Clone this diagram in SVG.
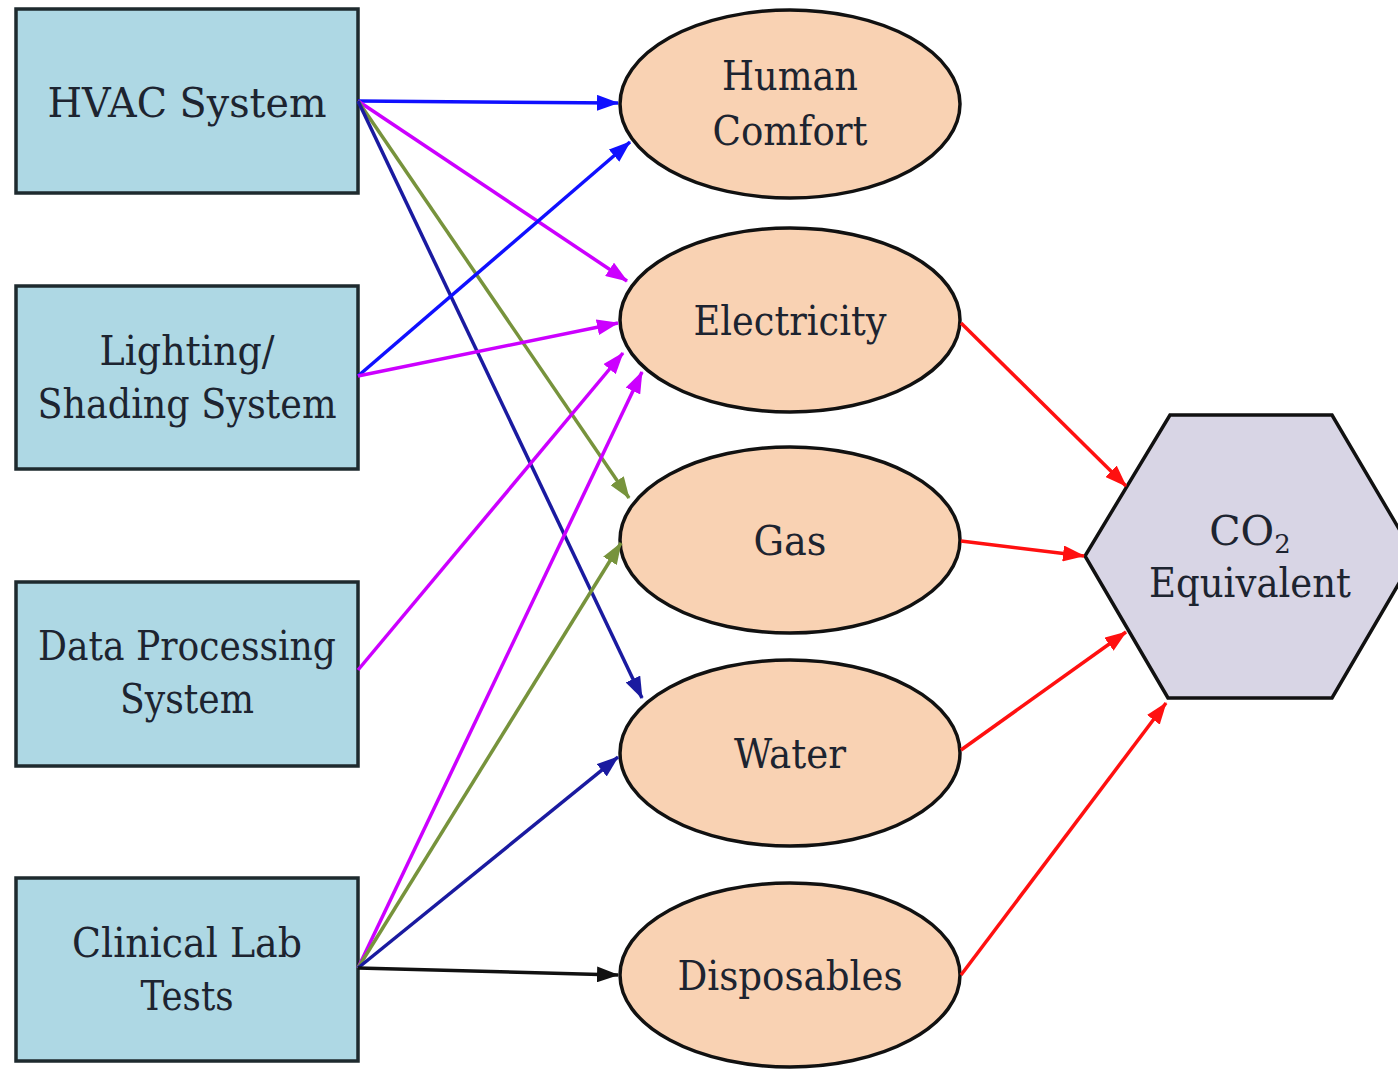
<svg xmlns="http://www.w3.org/2000/svg" width="1398" height="1071" viewBox="0 0 1398 1071">
<style>
.box{fill:#aed8e4;stroke:#1e2a2e;stroke-width:3.5}
.ell{fill:#f9d2b3;stroke:#111;stroke-width:3.5}
.hex{fill:#d8d5e5;stroke:#111;stroke-width:3.5}
.t{font-family:'DejaVu Serif','Liberation Serif',serif;font-size:41px;fill:#1d2430;text-anchor:middle}
.c{fill:none;stroke-width:3.5}
</style>
<defs>
<marker id="aBlue" viewBox="0 0 22 16" refX="21" refY="8" markerWidth="22" markerHeight="16" markerUnits="userSpaceOnUse" orient="auto"><path d="M0,0 L22,8 L0,16 z" fill="#1010ff"/></marker>
<marker id="aMag" viewBox="0 0 22 16" refX="21" refY="8" markerWidth="22" markerHeight="16" markerUnits="userSpaceOnUse" orient="auto"><path d="M0,0 L22,8 L0,16 z" fill="#cc00ff"/></marker>
<marker id="aOlive" viewBox="0 0 22 16" refX="21" refY="8" markerWidth="22" markerHeight="16" markerUnits="userSpaceOnUse" orient="auto"><path d="M0,0 L22,8 L0,16 z" fill="#77933c"/></marker>
<marker id="aNavy" viewBox="0 0 22 16" refX="21" refY="8" markerWidth="22" markerHeight="16" markerUnits="userSpaceOnUse" orient="auto"><path d="M0,0 L22,8 L0,16 z" fill="#1a1aa0"/></marker>
<marker id="aBlack" viewBox="0 0 22 16" refX="21" refY="8" markerWidth="22" markerHeight="16" markerUnits="userSpaceOnUse" orient="auto"><path d="M0,0 L22,8 L0,16 z" fill="#111"/></marker>
<marker id="aRed" viewBox="0 0 22 16" refX="21" refY="8" markerWidth="22" markerHeight="16" markerUnits="userSpaceOnUse" orient="auto"><path d="M0,0 L22,8 L0,16 z" fill="#ff1010"/></marker>
</defs>
<rect width="1398" height="1071" fill="#fff"/>
<g id="hvac"><rect class="box" x="16" y="9" width="342" height="184"/><text class="t" x="187" y="117" textLength="279" lengthAdjust="spacingAndGlyphs">HVAC System</text></g>
<g id="lighting"><rect class="box" x="16" y="286" width="342" height="183"/><text class="t" x="187" y="365" textLength="175" lengthAdjust="spacingAndGlyphs">Lighting/</text><text class="t" x="187" y="418" textLength="299" lengthAdjust="spacingAndGlyphs">Shading System</text></g>
<g id="dataproc"><rect class="box" x="16" y="582" width="342" height="184"/><text class="t" x="187" y="660" textLength="298" lengthAdjust="spacingAndGlyphs">Data Processing</text><text class="t" x="187" y="713" textLength="134" lengthAdjust="spacingAndGlyphs">System</text></g>
<g id="clinical"><rect class="box" x="16" y="878" width="342" height="183"/><text class="t" x="187" y="957" textLength="230" lengthAdjust="spacingAndGlyphs">Clinical Lab</text><text class="t" x="187" y="1010" textLength="93" lengthAdjust="spacingAndGlyphs">Tests</text></g>
<g id="comfort"><ellipse class="ell" cx="790" cy="104" rx="170" ry="94"/><text class="t" x="790" y="90" textLength="136" lengthAdjust="spacingAndGlyphs">Human</text><text class="t" x="790" y="145" textLength="155" lengthAdjust="spacingAndGlyphs">Comfort</text></g>
<g id="electricity"><ellipse class="ell" cx="790" cy="320" rx="170" ry="92"/><text class="t" x="790" y="335" textLength="193" lengthAdjust="spacingAndGlyphs">Electricity</text></g>
<g id="gas"><ellipse class="ell" cx="790" cy="540" rx="170" ry="93"/><text class="t" x="790" y="555" textLength="73" lengthAdjust="spacingAndGlyphs">Gas</text></g>
<g id="water"><ellipse class="ell" cx="790" cy="753" rx="170" ry="93"/><text class="t" x="790" y="768" textLength="112" lengthAdjust="spacingAndGlyphs">Water</text></g>
<g id="disposables"><ellipse class="ell" cx="790" cy="975" rx="170" ry="92"/><text class="t" x="790" y="990" textLength="225" lengthAdjust="spacingAndGlyphs">Disposables</text></g>
<g id="co2"><polygon class="hex" points="1170,415 1332,415 1415,556 1332,698 1168,698 1085,556"/><text class="t" x="1250" y="545">CO<tspan font-size="26" dy="8">2</tspan></text><text class="t" x="1250" y="597" textLength="202" lengthAdjust="spacingAndGlyphs">Equivalent</text></g>
<g id="connectors">
<line class="c" x1="358" y1="101" x2="618" y2="103" stroke="#1010ff" marker-end="url(#aBlue)"/>
<line class="c" x1="358" y1="101" x2="627" y2="281" stroke="#cc00ff" marker-end="url(#aMag)"/>
<line class="c" x1="358" y1="101" x2="629" y2="498" stroke="#77933c" marker-end="url(#aOlive)"/>
<line class="c" x1="358" y1="101" x2="642" y2="698" stroke="#1a1aa0" marker-end="url(#aNavy)"/>
<line class="c" x1="358" y1="376" x2="630" y2="142" stroke="#1010ff" marker-end="url(#aBlue)"/>
<line class="c" x1="358" y1="376" x2="618" y2="323" stroke="#cc00ff" marker-end="url(#aMag)"/>
<line class="c" x1="358" y1="670" x2="623" y2="353" stroke="#cc00ff" marker-end="url(#aMag)"/>
<line class="c" x1="358" y1="968" x2="642" y2="372" stroke="#cc00ff" marker-end="url(#aMag)"/>
<line class="c" x1="358" y1="968" x2="621" y2="543" stroke="#77933c" marker-end="url(#aOlive)"/>
<line class="c" x1="358" y1="968" x2="618" y2="757" stroke="#1a1aa0" marker-end="url(#aNavy)"/>
<line class="c" x1="358" y1="968" x2="618" y2="975" stroke="#111" marker-end="url(#aBlack)"/>
<line class="c" x1="961" y1="323" x2="1126" y2="486" stroke="#ff1010" marker-end="url(#aRed)"/>
<line class="c" x1="961" y1="541" x2="1084" y2="556" stroke="#ff1010" marker-end="url(#aRed)"/>
<line class="c" x1="961" y1="750" x2="1126" y2="632" stroke="#ff1010" marker-end="url(#aRed)"/>
<line class="c" x1="961" y1="975" x2="1166" y2="703" stroke="#ff1010" marker-end="url(#aRed)"/>
</g>
</svg>
